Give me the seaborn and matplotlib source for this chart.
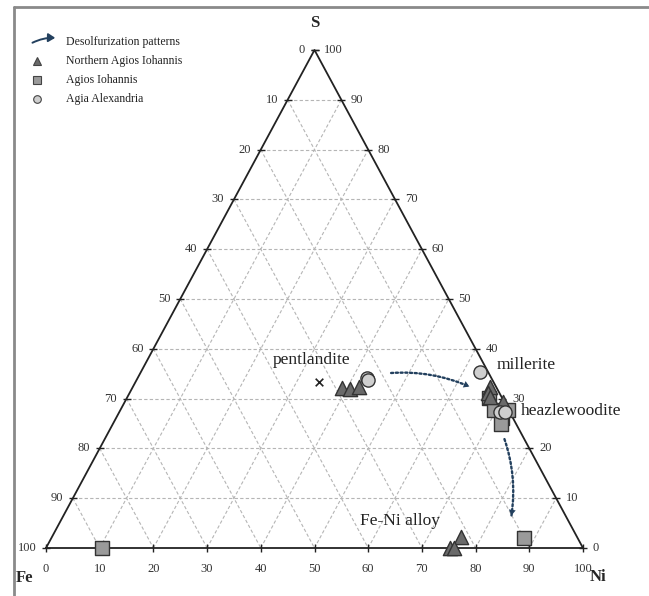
import numpy as np
import pandas as pd
import matplotlib
matplotlib.use('Agg')
import matplotlib.pyplot as plt
from matplotlib.patches import FancyArrowPatch
from matplotlib.lines import Line2D
import seaborn as sns

# ternary data: Ni and S (wt%), Fe is the rest
north_ni = [39.0, 40.7, 42.0, 66.5, 66.8, 67.5, 70.5, 76.1, 75.2, 75.9]
north_s = [32.1, 31.9, 32.4, 32.4, 31.1, 30.4, 29.3, 2.3, 0.0, 0.0]
agios_ni = [10.4, 67.5, 69.5, 72.2, 71.8, 72.3, 87.9]
agios_s = [0.0, 30.1, 27.7, 27.7, 26.1, 25.0, 2.1]
alex_ni = [42.7, 43.2, 63.1, 70.9, 71.8]
alex_s = [34.1, 33.7, 35.4, 27.4, 27.4]
pent_ni, pent_s = 34.1, 33.3
# desolfurization arrows (Ni, S) start -> end
arrow_from = [(46.2, 35.1), (74.0, 22.4)]
arrow_to = [(63.2, 32.2), (83.6, 6.0)]
ticks = list(range(0, 101, 10))


def to_xy(ni, s):
    ni = np.asarray(ni, dtype=float)
    s = np.asarray(s, dtype=float)
    return ni + s / 2, s


rows = []
for name, ni, s in [('Agios Iohannis', agios_ni, agios_s),
                    ('Northern Agios Iohannis', north_ni, north_s),
                    ('Agia Alexandria', alex_ni, alex_s)]:
    x, y = to_xy(ni, s)
    for a, b in zip(x, y):
        rows.append({'group': name, 'x': a, 'y': b})
df = pd.DataFrame(rows)

sns.set_style('white')
plt.rcParams['font.family'] = ['Liberation Serif', 'DejaVu Serif']

W, H = 649, 596
fig = plt.figure(figsize=(W / 100, H / 100), dpi=100)
ax = fig.add_axes([46 / W, 48 / H, 537 / W, 498 / H])
ax.set_xlim(0, 100)
ax.set_ylim(0, 100)
ax.axis('off')

# grid
gk = dict(color='#b5b5b5', lw=0.8, ls=(0, (3, 2)), zorder=1)
for k in range(10, 100, 10):
    x, y = to_xy([0, 100 - k], [k, k])
    ax.plot(x, y, **gk)
    x, y = to_xy([k, k], [0, 100 - k])
    ax.plot(x, y, **gk)
    x, y = to_xy([0, 100 - k], [100 - k, 0])
    ax.plot(x, y, **gk)

# outline
x, y = to_xy([0, 100, 0, 0], [0, 0, 100, 0])
ax.plot(x, y, color='#222222', lw=1.3, zorder=2, clip_on=False)

# ticks and labels
tfont = dict(fontsize=9, color='#333333')
for k in ticks:
    # bottom: Ni
    x, y = to_xy(k, 0)
    ax.plot(x, y, marker='|', ms=6, color='#222222', clip_on=False, zorder=3)
    ax.annotate(str(k), (x, y), xytext=(0, -11), textcoords='offset points',
                ha='center', va='top', **tfont)
    # left: Fe
    x, y = to_xy(0, 100 - k)
    ax.plot(x, y, marker='_', ms=6, color='#222222', clip_on=False, zorder=3)
    ax.annotate(str(k), (x, y), xytext=(-7, 0), textcoords='offset points',
                ha='right', va='center', **tfont)
    # right: S
    x, y = to_xy(100 - k, k)
    ax.plot(x, y, marker='_', ms=6, color='#222222', clip_on=False, zorder=3)
    ax.annotate(str(k), (x, y), xytext=(7, 0), textcoords='offset points',
                ha='left', va='center', **tfont)

# corner labels
ax.text(50, 105.5, 'S', ha='center', va='center', fontsize=12, fontweight='bold')
ax.text(-4, -6, 'Fe', ha='center', va='center', fontsize=12, fontweight='bold')
ax.text(102.8, -5.8, 'Ni', ha='center', va='center', fontsize=12, fontweight='bold')

# points
styles = {
    'Agios Iohannis': dict(marker='s', color='#9a9a9a', s=100),
    'Northern Agios Iohannis': dict(marker='^', color='#6a6a6a', s=105),
    'Agia Alexandria': dict(marker='o', color='#cfcfcf', s=90),
}
for name, st in styles.items():
    sns.scatterplot(data=df[df['group'] == name], x='x', y='y', ax=ax,
                    marker=st['marker'], color=st['color'], s=st['s'],
                    edgecolor='#333333', linewidth=1.0, zorder=4,
                    legend=False, clip_on=False)

x, y = to_xy(pent_ni, pent_s)
ax.scatter([x], [y], marker='x', s=30, color='#222222', linewidths=1.2, zorder=4)

# arrows: dotted shaft plus a solid filled head
for (n0, s0), (n1, s1) in zip(arrow_from, arrow_to):
    p0 = to_xy(n0, s0)
    p1 = to_xy(n1, s1)
    a, b = (float(p0[0]), float(p0[1])), (float(p1[0]), float(p1[1]))
    shaft = FancyArrowPatch(a, b, connectionstyle='arc3,rad=-0.13', arrowstyle='-',
                            color='#23405e', lw=1.7, ls=(0, (0.9, 1.1)), zorder=5)
    head = FancyArrowPatch(a, b, connectionstyle='arc3,rad=-0.13',
                           arrowstyle='-|>,head_length=4,head_width=2.5',
                           color='#23405e', lw=0, zorder=5)
    ax.add_patch(shaft)
    ax.add_patch(head)

# mineral labels
lf = dict(fontsize=12.5, color='#222222')
ax.text(49.5, 37.8, 'pentlandite', ha='center', va='center', **lf)
ax.text(84.0, 36.7, 'millerite', ha='left', va='center', **lf)
ax.text(88.5, 27.5, 'heazlewoodite', ha='left', va='center', **lf)
ax.text(65.9, 5.4, 'Fe-Ni alloy', ha='center', va='center', **lf)


# legend (figure coords)
def fx(px):
    return px / W


def fy(py):
    return 1 - py / H


larr = FancyArrowPatch((fx(30), fy(44)), (fx(58), fy(38)), transform=fig.transFigure,
                       connectionstyle='arc3,rad=-0.15',
                       arrowstyle='-|>,head_length=4,head_width=2.5',
                       color='#23405e', lw=1.4)
fig.patches.append(larr)
leg_items = [('Desolfurization patterns', None),
             ('Northern Agios Iohannis', 'Northern Agios Iohannis'),
             ('Agios Iohannis', 'Agios Iohannis'),
             ('Agia Alexandria', 'Agia Alexandria')]
for i, (label, key) in enumerate(leg_items):
    py = 42 + i * 19
    fig.text(fx(66), fy(py), label, ha='left', va='center', fontsize=8.5, color='#222222')
    if key is not None:
        st = styles[key]
        fig.add_artist(Line2D([fx(37)], [fy(py)], marker=st['marker'], ms=5.5,
                              markerfacecolor=st['color'], markeredgecolor='#444444',
                              markeredgewidth=0.8, ls='none', transform=fig.transFigure))

# frame on top and left
fig.add_artist(Line2D([fx(14), 1], [fy(7), fy(7)], color='#8a8a8a', lw=2,
                      transform=fig.transFigure))
fig.add_artist(Line2D([fx(14), fx(14)], [fy(7), 0], color='#8a8a8a', lw=2,
                      transform=fig.transFigure))

fig.savefig('out.png', dpi=100)
